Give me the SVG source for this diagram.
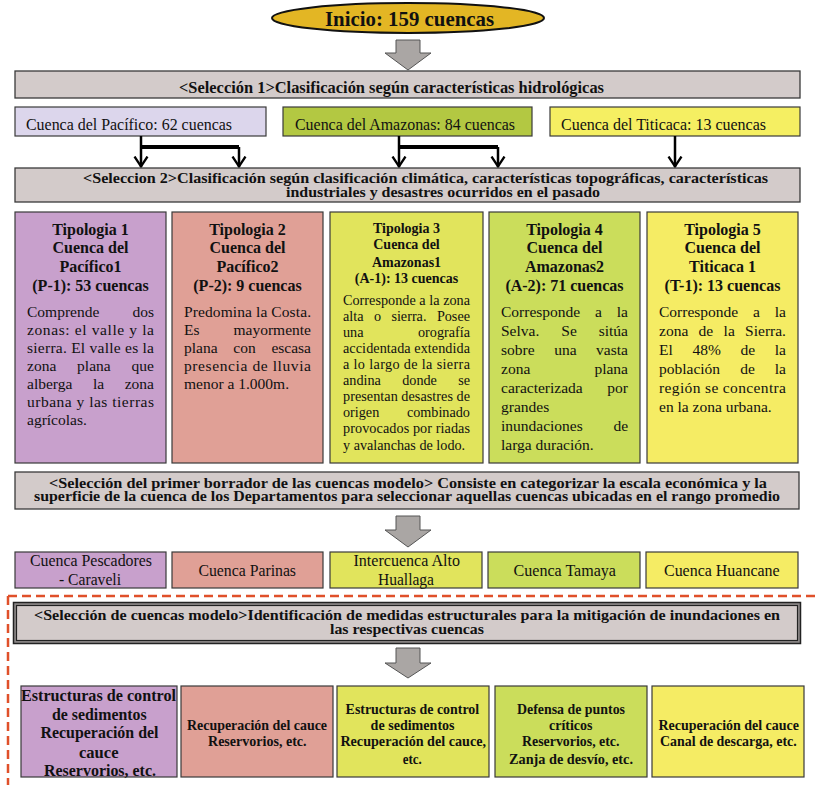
<svg xmlns="http://www.w3.org/2000/svg" width="815" height="785" viewBox="0 0 815 785">
<style>
.b{font-family:"Liberation Serif","Times New Roman",serif;font-weight:bold;fill:#111}
.r{font-family:"Liberation Serif","Times New Roman",serif;fill:#111}
.box{stroke:#3a3a3a;stroke-width:1.2}
.sel{fill:#d3cbca;stroke:#3a3a3a;stroke-width:1.3}
.garrow{fill:#aaa6a4;stroke:#555;stroke-width:1}
.p{fill:#c8a0cc}.s{fill:#e0a096}.yg{fill:#e1e45c}.g{fill:#cbdd5b}.y{fill:#f5ec64}
.c{stroke:#000;stroke-width:2.5;fill:none}
.bar{stroke:#000;stroke-width:4;fill:none}
.t16{font-size:16px}.t15{font-size:15.5px}.t14{font-size:14.2px}
</style>
<defs>
<marker id="v" viewBox="-1 -8 13 16" refX="10.5" refY="0" markerWidth="13" markerHeight="16" markerUnits="userSpaceOnUse" orient="auto">
<path d="M0,-6.5 L10,0 L0,6.5" fill="none" stroke="#000" stroke-width="2.3"/>
</marker>
</defs>

<g id="inicio">
<ellipse cx="408" cy="18" rx="136" ry="15" fill="#e3b624" stroke="#111" stroke-width="2"/>
<text class="b" x="325" y="25.5" font-size="22" textLength="169" lengthAdjust="spacingAndGlyphs">Inicio: 159 cuencas</text>
</g>

<g id="arrow1"><path class="garrow" d="M396,40 H420 V53 H431 L408,70 L385,53 H396 Z"/></g>

<g id="seleccion1">
<rect class="sel" x="15" y="71" width="785" height="27"/>
<text class="b t16" x="179" y="92.5" textLength="425" lengthAdjust="spacingAndGlyphs">&lt;Selección 1&gt;Clasificación según características hidrológicas</text>
</g>

<g id="pacifico">
<rect class="box" x="15" y="107" width="251" height="29" fill="#dcd6ec"/>
<text class="r t16" x="26" y="130" textLength="206" lengthAdjust="spacingAndGlyphs">Cuenca del Pacífico: 62 cuencas</text>
</g>
<g id="amazonas">
<rect class="box" x="283" y="107" width="249" height="29" fill="#b3c842"/>
<text class="r t16" x="295" y="130" textLength="220" lengthAdjust="spacingAndGlyphs">Cuenca del Amazonas: 84 cuencas</text>
</g>
<g id="titicaca">
<rect class="box" x="550" y="107" width="250" height="29" fill="#f5ef62"/>
<text class="r t16" x="561" y="130" textLength="205" lengthAdjust="spacingAndGlyphs">Cuenca del Titicaca: 13 cuencas</text>
</g>

<g id="connectors">
<path class="c" d="M141,136 V167" marker-end="url(#v)"/>
<path class="bar" d="M141,147 H239"/>
<path class="c" d="M239,147 V167" marker-end="url(#v)"/>
<path class="c" d="M399,136 V167" marker-end="url(#v)"/>
<path class="bar" d="M399,147 H498"/>
<path class="c" d="M498,147 V167" marker-end="url(#v)"/>
<path class="c" d="M675,136 V167" marker-end="url(#v)"/>
</g>

<g id="seleccion2">
<rect class="sel" x="15" y="168" width="785" height="34"/>
<text class="b" font-size="14.5"><tspan x="83" y="183" textLength="685" lengthAdjust="spacingAndGlyphs">&lt;Seleccion 2&gt;Clasificación según clasificación climática, características topográficas, características</tspan><tspan x="286" y="197" textLength="314" lengthAdjust="spacingAndGlyphs">industriales y desastres ocurridos en el pasado</tspan></text>
</g>

<g id="tipologia1">
<rect class="box p" x="15" y="212" width="151" height="251"/>
<g class="b t16" text-anchor="middle">
<text x="90.5" y="234.5">Tipologia 1</text>
<text x="90.5" y="253">Cuenca del</text>
<text x="90.5" y="272">Pacífico1</text>
<text x="90.5" y="291">(P-1): 53 cuencas</text>
</g>
<g class="r t15">
<text y="316.5"><tspan x="27">Comprende</tspan><tspan x="132.5">dos</tspan></text>
<text x="27" y="334.5" textLength="127">zonas: el valle y la</text>
<text x="27" y="352.5" textLength="127">sierra. El valle es la</text>
<text y="370.5"><tspan x="27">zona</tspan><tspan x="77.1">plana</tspan><tspan x="131.6">que</tspan></text>
<text y="388.5"><tspan x="27">alberga</tspan><tspan x="93">la</tspan><tspan x="124.7">zona</tspan></text>
<text x="27" y="406.5" textLength="127">urbana y las tierras</text>
<text x="27" y="424.5">agrícolas.</text>
</g>
</g>

<g id="tipologia2">
<rect class="box s" x="172" y="212" width="151" height="251"/>
<g class="b t16" text-anchor="middle">
<text x="247.5" y="234.5">Tipologia 2</text>
<text x="247.5" y="253">Cuenca del</text>
<text x="247.5" y="272">Pacífico2</text>
<text x="247.5" y="291">(P-2): 9 cuencas</text>
</g>
<g class="r t15">
<text x="184" y="316.5" textLength="127">Predomina la Costa.</text>
<text y="334.5"><tspan x="184">Es</tspan><tspan x="233.5">mayormente</tspan></text>
<text y="352.5"><tspan x="184">plana</tspan><tspan x="233.3">con</tspan><tspan x="271.4">escasa</tspan></text>
<text x="184" y="370.5" textLength="127">presencia de lluvia</text>
<text x="184" y="388.5">menor a 1.000m.</text>
</g>
</g>

<g id="tipologia3">
<rect class="box yg" x="330" y="212" width="153" height="251"/>
<g class="b" font-size="14" text-anchor="middle">
<text x="406.5" y="233.3">Tipologia 3</text>
<text x="406.5" y="249.3">Cuenca del</text>
<text x="406.5" y="266.5">Amazonas1</text>
<text x="406.5" y="283.3">(A-1): 13 cuencas</text>
</g>
<g class="r t14">
<text x="343" y="305.2" textLength="127">Corresponde a la zona</text>
<text y="321.2"><tspan x="343">alta</tspan><tspan x="373.9">o</tspan><tspan x="391.4">sierra.</tspan><tspan x="436.9">Posee</tspan></text>
<text y="337.3"><tspan x="343">una</tspan><tspan x="418">orografía</tspan></text>
<text x="343" y="353.3" textLength="127">accidentada extendida</text>
<text x="343" y="369.3" textLength="127">a lo largo de la sierra</text>
<text y="385.4"><tspan x="343">andina</tspan><tspan x="402.2">donde</tspan><tspan x="458.2">se</tspan></text>
<text x="343" y="401.4" textLength="127">presentan desastres de</text>
<text y="417.4"><tspan x="343">origen</tspan><tspan x="406.9">combinado</tspan></text>
<text x="343" y="433.4" textLength="127">provocados por riadas</text>
<text x="343" y="449.5">y avalanchas de lodo.</text>
</g>
</g>

<g id="tipologia4">
<rect class="box g" x="489" y="212" width="151" height="251"/>
<g class="b t16" text-anchor="middle">
<text x="564.5" y="234.5">Tipologia 4</text>
<text x="564.5" y="253">Cuenca del</text>
<text x="564.5" y="272">Amazonas2</text>
<text x="564.5" y="291">(A-2): 71 cuencas</text>
</g>
<g class="r t15">
<text y="316.5"><tspan x="501">Corresponde</tspan><tspan x="595">a</tspan><tspan x="616.8">la</tspan></text>
<text y="335.5"><tspan x="501">Selva.</tspan><tspan x="561.3">Se</tspan><tspan x="598.7">sitúa</tspan></text>
<text y="354.5"><tspan x="501">sobre</tspan><tspan x="554.2">una</tspan><tspan x="596.1">vasta</tspan></text>
<text y="373.5"><tspan x="501">zona</tspan><tspan x="594.4">plana</tspan></text>
<text y="392.5"><tspan x="501">caracterizada</tspan><tspan x="607.3">por</tspan></text>
<text x="501" y="411.5">grandes</text>
<text y="430.5"><tspan x="501">inundaciones</tspan><tspan x="613.4">de</tspan></text>
<text x="501" y="449.5">larga duración.</text>
</g>
</g>

<g id="tipologia5">
<rect class="box y" x="647" y="212" width="151" height="251"/>
<g class="b t16" text-anchor="middle">
<text x="722.5" y="234.5">Tipologia 5</text>
<text x="722.5" y="253">Cuenca del</text>
<text x="722.5" y="272">Titicaca 1</text>
<text x="722.5" y="291">(T-1): 13 cuencas</text>
</g>
<g class="r t15">
<text y="316.5"><tspan x="659">Corresponde</tspan><tspan x="753">a</tspan><tspan x="774.8">la</tspan></text>
<text y="335.5"><tspan x="659">zona</tspan><tspan x="698.6">de</tspan><tspan x="723.6">la</tspan><tspan x="745.1">Sierra.</tspan></text>
<text y="354.5"><tspan x="659">El</tspan><tspan x="692.5">48%</tspan><tspan x="740.6">de</tspan><tspan x="774.8">la</tspan></text>
<text y="373.5"><tspan x="659">población</tspan><tspan x="740.2">de</tspan><tspan x="774.8">la</tspan></text>
<text x="659" y="392.5" textLength="127">región se concentra</text>
<text x="659" y="411.5">en la zona urbana.</text>
</g>
</g>

<g id="borrador">
<rect class="sel" x="15" y="472" width="784" height="37"/>
<text class="b" font-size="14.5"><tspan x="49" y="487.5" textLength="718" lengthAdjust="spacingAndGlyphs">&lt;Selección del primer borrador de las cuencas modelo&gt; Consiste en categorizar la escala económica  y la</tspan><tspan x="34" y="501" textLength="746" lengthAdjust="spacingAndGlyphs">superficie de la cuenca de los Departamentos para seleccionar aquellas cuencas ubicadas en el rango promedio</tspan></text>
</g>

<g id="arrow2"><path class="garrow" d="M396,516 H420 V530 H431 L408,547 L385,530 H396 Z"/></g>

<g id="cuenca-pescadores">
<rect class="box p" x="15" y="552" width="151" height="36"/>
<text class="r t16" x="30" y="566" textLength="122" lengthAdjust="spacingAndGlyphs">Cuenca Pescadores</text>
<text class="r t16" x="59" y="585" textLength="62" lengthAdjust="spacingAndGlyphs">- Caraveli</text>
</g>
<g id="cuenca-parinas">
<rect class="box s" x="172" y="552" width="151" height="36"/>
<text class="r t16" x="198.5" y="576" textLength="97.5" lengthAdjust="spacingAndGlyphs">Cuenca Parinas</text>
</g>
<g id="intercuenca-alto-huallaga">
<rect class="box yg" x="330" y="552" width="152" height="36"/>
<text class="r t16" x="353.5" y="566" textLength="106.5" lengthAdjust="spacingAndGlyphs">Intercuenca Alto</text>
<text class="r t16" x="378" y="585" textLength="56" lengthAdjust="spacingAndGlyphs">Huallaga</text>
</g>
<g id="cuenca-tamaya">
<rect class="box g" x="488" y="552" width="152" height="36"/>
<text class="r t16" x="513.5" y="576" textLength="102.5" lengthAdjust="spacingAndGlyphs">Cuenca Tamaya</text>
</g>
<g id="cuenca-huancane">
<rect class="box y" x="646" y="552" width="152" height="36"/>
<text class="r t16" x="664" y="576" textLength="115.6" lengthAdjust="spacingAndGlyphs">Cuenca Huancane</text>
</g>

<g id="frame">
<path d="M8,596 H815 M8,596 V785" fill="none" stroke="#e0502a" stroke-width="2.5" stroke-dasharray="9 5"/>
</g>

<g id="seleccion-modelo">
<rect x="13.5" y="602.5" width="787" height="41" fill="#8f8b8b" stroke="#222" stroke-width="1.5"/>
<rect x="16.5" y="605.5" width="781" height="35" fill="#d3cbca" stroke="#222" stroke-width="1.2"/>
<text class="b" font-size="14.5"><tspan x="34" y="620" textLength="746" lengthAdjust="spacingAndGlyphs">&lt;Selección de cuencas modelo&gt;Identificación de medidas estructurales para la mitigación de inundaciones en</tspan><tspan x="330" y="634" textLength="154" lengthAdjust="spacingAndGlyphs">las respectivas cuencas</tspan></text>
</g>

<g id="arrow3"><path class="garrow" d="M396,648 H420 V663 H431 L408,678 L385,663 H396 Z"/></g>

<g id="medida1">
<rect class="box p" x="21" y="686" width="156" height="91"/>
<g class="b" font-size="17">
<text x="21" y="700.5" textLength="155" lengthAdjust="spacingAndGlyphs">Estructuras de control</text>
<text x="52" y="719.5" textLength="94.6" lengthAdjust="spacingAndGlyphs">de sedimentos</text>
<text x="40.5" y="738" textLength="118" lengthAdjust="spacingAndGlyphs">Recuperación del</text>
<text x="79" y="757.5" textLength="39.5" lengthAdjust="spacingAndGlyphs">cauce</text>
<text x="44" y="776" textLength="112" lengthAdjust="spacingAndGlyphs">Reservorios, etc.</text>
</g>
</g>
<g id="medida2">
<rect class="box s" x="181" y="686" width="152" height="91"/>
<g class="b" font-size="15">
<text x="187" y="730" textLength="140" lengthAdjust="spacingAndGlyphs">Recuperación del cauce</text>
<text x="208" y="746" textLength="98.6" lengthAdjust="spacingAndGlyphs">Reservorios, etc.</text>
</g>
</g>
<g id="medida3">
<rect class="box yg" x="337" y="686" width="152" height="91"/>
<g class="b" font-size="15">
<text x="345.6" y="713.5" textLength="133.6" lengthAdjust="spacingAndGlyphs">Estructuras de control</text>
<text x="370.6" y="730" textLength="84" lengthAdjust="spacingAndGlyphs">de sedimentos</text>
<text x="340.4" y="746" textLength="145.6" lengthAdjust="spacingAndGlyphs">Recuperación del cauce,</text>
<text x="402.8" y="763.5" textLength="19" lengthAdjust="spacingAndGlyphs">etc.</text>
</g>
</g>
<g id="medida4">
<rect class="box g" x="495" y="686" width="152" height="91"/>
<g class="b" font-size="15">
<text x="517" y="713.5" textLength="108" lengthAdjust="spacingAndGlyphs">Defensa de puntos</text>
<text x="549" y="730" textLength="43.5" lengthAdjust="spacingAndGlyphs">críticos</text>
<text x="522" y="746" textLength="97.5" lengthAdjust="spacingAndGlyphs">Reservorios, etc.</text>
<text x="509" y="763.5" textLength="124" lengthAdjust="spacingAndGlyphs">Zanja de desvío, etc.</text>
</g>
</g>
<g id="medida5">
<rect class="box y" x="652" y="686" width="152" height="91"/>
<g class="b" font-size="15">
<text x="658.5" y="730" textLength="140.5" lengthAdjust="spacingAndGlyphs">Recuperación del cauce</text>
<text x="660" y="746" textLength="136.7" lengthAdjust="spacingAndGlyphs">Canal de descarga, etc.</text>
</g>
</g>
</svg>
